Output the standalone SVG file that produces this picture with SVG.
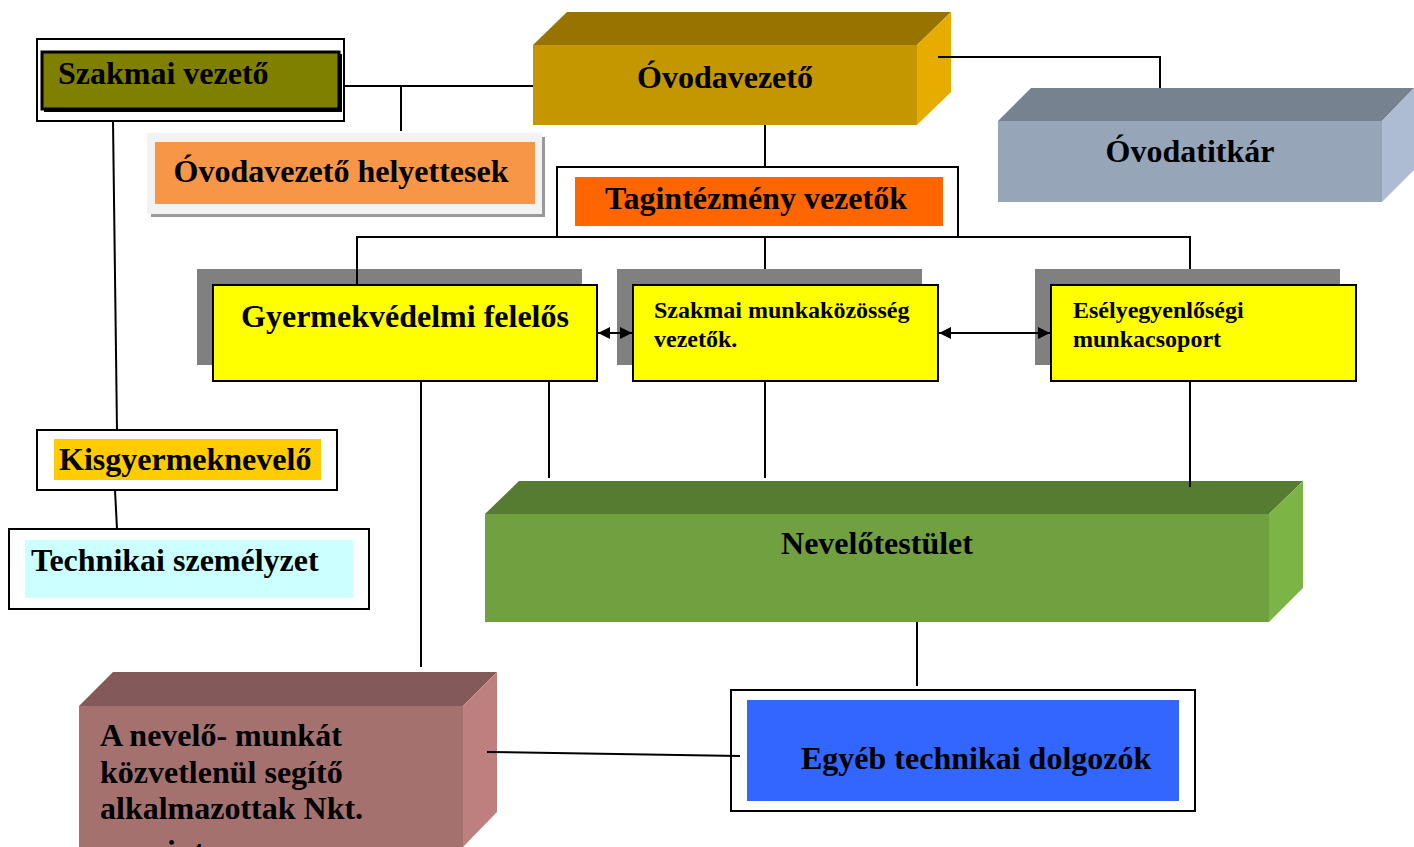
<svg xmlns="http://www.w3.org/2000/svg" width="1414" height="847" viewBox="0 0 1414 847">
<defs>
<style>
text{font-family:"Liberation Serif","Times New Roman",serif;font-weight:bold;fill:#000}
.big{font-size:32px}
.sm{font-size:24px}
.ln{stroke:#000;stroke-width:2;fill:none}
.box{fill:#fff;stroke:#000;stroke-width:2}
.yel{fill:#FFFF00;stroke:#000;stroke-width:2}
.shd{fill:#808080}
</style>
<marker id="ah" viewBox="0 0 12 12" refX="12" refY="6" markerWidth="12" markerHeight="12" markerUnits="userSpaceOnUse" orient="auto-start-reverse">
<path d="M0,0 L12,6 L0,12 Z" fill="#000"/>
</marker>
</defs>
<rect width="1414" height="847" fill="#fff"/>

<g id="szakmai-vezeto">
<rect class="box" x="37" y="39" width="307" height="82"/>
<rect x="44" y="54" width="298" height="58" fill="#000"/>
<rect x="42" y="52" width="297" height="57" fill="#808000" stroke="#000" stroke-width="3"/>
<text class="big" x="58" y="84">Szakmai vezető</text>
</g>

<g id="ovodavezeto-helyettesek">
<rect x="151" y="137" width="394" height="80" fill="#999"/>
<rect x="147" y="133" width="395" height="81" fill="#F2F2F2"/>
<rect x="155" y="142" width="380" height="62" fill="#F79646"/>
<text class="big" x="341" y="182" text-anchor="middle">Óvodavezető helyettesek</text>
</g>

<g id="ovodavezeto">
<polygon points="533,45 567,12 951,12 917,45" fill="#997300"/>
<polygon points="917,45 951,12 951,92 917,125" fill="#E6AC00"/>
<rect x="533" y="45" width="384" height="80" fill="#C49600"/>
<text class="big" x="725" y="88" text-anchor="middle">Óvodavezető</text>
</g>

<g id="ovodatitkar">
<polygon points="998,121 1031,88 1414,88 1382,121" fill="#778290"/>
<polygon points="1382,121 1414,88 1414,170 1382,202" fill="#AEBCD3"/>
<rect x="998" y="121" width="384" height="81" fill="#97A5B9"/>
<text class="big" x="1190" y="162" text-anchor="middle">Óvodatitkár</text>
</g>

<g id="tagintezmeny-vezetok">
<rect class="box" x="557" y="167" width="401" height="70"/>
<rect x="575" y="177" width="368" height="49" fill="#FF6600"/>
<text class="big" x="756" y="209" text-anchor="middle">Tagintézmény vezetők</text>
</g>

<g id="gyermekvedelmi">
<rect class="shd" x="197" y="269" width="385" height="96"/>
<rect class="yel" x="213" y="285" width="384" height="96"/>
<text class="big" x="405" y="327" text-anchor="middle">Gyermekvédelmi felelős</text>
</g>

<g id="szakmai-munkakozosseg">
<rect class="shd" x="617" y="269" width="305" height="96"/>
<rect class="yel" x="633" y="285" width="305" height="96"/>
<text class="sm" x="654" y="318">Szakmai munkaközösség</text>
<text class="sm" x="654" y="347">vezetők.</text>
</g>

<g id="eselyegyenlosegi">
<rect class="shd" x="1035" y="269" width="305" height="96"/>
<rect class="yel" x="1051" y="285" width="305" height="96"/>
<text class="sm" x="1073" y="318">Esélyegyenlőségi</text>
<text class="sm" x="1073" y="347">munkacsoport</text>
</g>

<g id="kisgyermeknevelo">
<rect class="box" x="37" y="430" width="300" height="60"/>
<rect x="54" y="439" width="267" height="41" fill="#FFCC00"/>
<text class="big" x="59" y="470">Kisgyermeknevelő</text>
</g>

<g id="technikai-szemelyzet">
<rect class="box" x="9" y="529" width="360" height="80"/>
<rect x="25" y="540" width="328" height="58" fill="#CCFFFF"/>
<text class="big" x="31" y="571">Technikai személyzet</text>
</g>

<g id="nevelotestulet">
<polygon points="485,514 519,481 1303,481 1269,514" fill="#567C32"/>
<polygon points="1269,514 1303,481 1303,588 1269,622" fill="#7DB446"/>
<rect x="485" y="514" width="784" height="108" fill="#70A040"/>
<text class="big" x="877" y="554" text-anchor="middle">Nevelőtestület</text>
</g>

<g id="egyeb-technikai">
<rect class="box" x="731" y="690" width="464" height="121"/>
<rect x="747" y="700" width="432" height="101" fill="#3366FF"/>
<text class="big" x="801" y="769">Egyéb technikai dolgozók</text>
</g>

<g id="nevelo-munkat-segito">
<polygon points="79,706 113,672 497,672 463,706" fill="#835A59"/>
<polygon points="463,706 497,672 497,812 463,847" fill="#BE807E"/>
<rect x="79" y="706" width="384" height="141" fill="#A5716F"/>
<text class="big" x="100" y="746">A nevelő- munkát</text>
<text class="big" x="100" y="783">közvetlenül segítő</text>
<text class="big" x="100" y="819">alkalmazottak Nkt.</text>
<text class="big" x="112" y="862">szerint</text>
</g>

<g id="connectors">
<path class="ln" d="M344,86 H533"/>
<path class="ln" d="M401,86 V131"/>
<path class="ln" d="M938,57 H1160 V88"/>
<path class="ln" d="M765,125 V167"/>
<path class="ln" d="M357,285 V237 H1190 V269"/>
<path class="ln" d="M765,237 V269"/>
<path class="ln" d="M113,121 L117,430"/>
<path class="ln" d="M115,490 L117,529"/>
<path class="ln" d="M421,382 V667"/>
<path class="ln" d="M549,382 V478"/>
<path class="ln" d="M765,382 V478"/>
<path class="ln" d="M1190,382 V487"/>
<path class="ln" d="M917,622 V686"/>
<path class="ln" d="M487,752 L740,756"/>
<path class="ln" d="M598,333 H632" marker-start="url(#ah)" marker-end="url(#ah)"/>
<path class="ln" d="M939,333 H1050" marker-start="url(#ah)" marker-end="url(#ah)"/>
</g>
</svg>
